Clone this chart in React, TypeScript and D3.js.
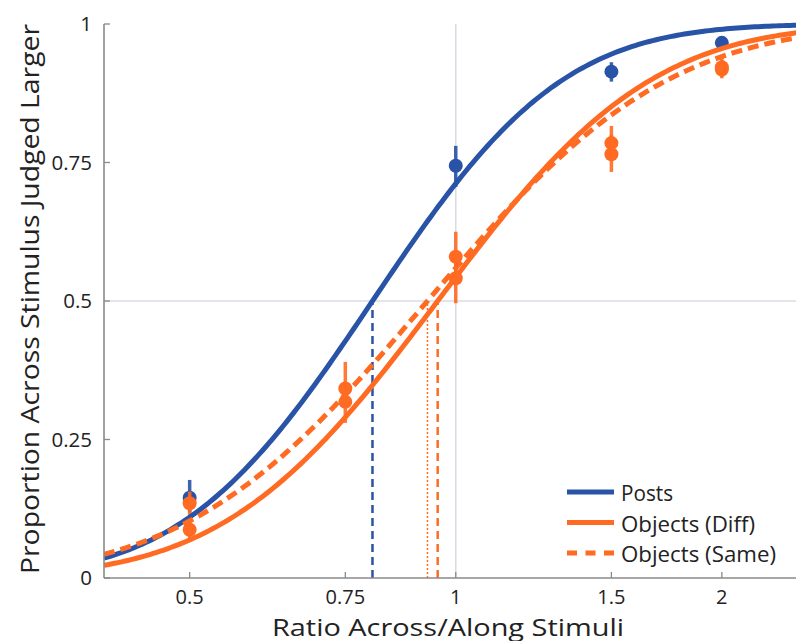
import React from "react";
import * as d3 from "d3";

const W = 796;
const H = 641;

// x ticks (log scale), y ticks
const xTicks = [0.5, 0.75, 1, 1.5, 2];
const xTickLabels = ["0.5", "0.75", "1", "1.5", "2"];
const yTicks = [0, 0.25, 0.5, 0.75, 1];
const yTickLabels = ["0", "0.25", "0.5", "0.75", "1"];

// series meta
const seriesNames = ["Posts", "Objects (Diff)", "Objects (Same)"];
const legendWidths = [52, 134, 155];
const seriesColors = ["#2853a6", "#ff6b22", "#ff6b22"];
const seriesDash = ["none", "none", "11 6"];
// fitted psychometric (cumulative normal in log ratio) parameters
const fitPSE = [0.805, 0.954, 0.929];
const fitSigma = [0.388, 0.435, 0.49];
const pseLineDash = ["8 5", "8 5", "2 2"];
const pseLineWidth = [2.5, 2.5, 1.5];

// observed data
const postsRatios = [0.5, 1, 1.5, 2];
const postsMean = [0.145, 0.744, 0.914, 0.966];
const postsLo = [0.118, 0.706, 0.896, 0.955];
const postsHi = [0.177, 0.78, 0.931, 0.975];
const objRatios = [0.5, 0.75, 1, 1.5, 2];
const diffMean = [0.087, 0.318, 0.541, 0.765, 0.918];
const diffLo = [0.069, 0.28, 0.496, 0.733, 0.902];
const diffHi = [0.11, 0.35, 0.58, 0.80, 0.935];
const sameMean = [0.135, 0.342, 0.58, 0.785, 0.922];
const sameLo = [0.11, 0.31, 0.54, 0.755, 0.905];
const sameHi = [0.156, 0.39, 0.625, 0.816, 0.941];

const ratiosBySeries = [postsRatios, objRatios, objRatios];
const means = [postsMean, diffMean, sameMean];
const los = [postsLo, diffLo, sameLo];
const his = [postsHi, diffHi, sameHi];

const x = d3.scaleLog().domain([0.4, 2.5]).range([104, 807.5]);
const y = d3.scaleLinear().domain([0, 1]).range([578, 24]);

function phi(z: number) {
  // cumulative normal via erf approximation
  const t = 1 / (1 + 0.3275911 * Math.abs(z) / Math.SQRT2);
  const a = [0.254829592, -0.284496736, 1.421413741, -1.453152027, 1.061405429];
  const poly = t * (a[0] + t * (a[1] + t * (a[2] + t * (a[3] + t * a[4]))));
  const erf = 1 - poly * Math.exp(-(z * z) / 2);
  return z >= 0 ? 0.5 * (1 + erf) : 0.5 * (1 - erf);
}

const curveXs = d3.range(0, 201).map((i) => 0.4 * Math.pow(2.5 / 0.4, i / 200));

export default function App() {
  const font = "'Open Sans', Lato, sans-serif";
  const line = d3
    .line<number>()
    .x((d) => x(d))
    .curve(d3.curveLinear);
  const axisColor = "#8a8a8a";
  const gridColor = "#d9dce2";

  return (
    <svg
      width={W}
      height={H}
      style={{ position: "absolute", left: 0, top: 0, background: "#fff" }}
      fontFamily={font}
    >
      <defs>
        <clipPath id="plot">
          <rect x={104} y={0} width={W - 104} height={578} />
        </clipPath>
      </defs>
      {/* reference lines */}
      <line x1={x(1)} x2={x(1)} y1={y(1)} y2={y(0)} stroke={gridColor} strokeWidth={1.6} />
      <line x1={104} x2={W} y1={y(0.5)} y2={y(0.5)} stroke={gridColor} strokeWidth={1.6} />

      {/* PSE lines */}
      {fitPSE.map((p, i) => (
        <line
          key={"pse" + i}
          x1={x(p)}
          x2={x(p)}
          y1={y(0)}
          y2={y(0.5)}
          stroke={seriesColors[i]}
          strokeWidth={pseLineWidth[i]}
          strokeDasharray={pseLineDash[i]}
        />
      ))}

      {/* data points with error bars */}
      {means.map((m, si) => (
        <g key={"pts" + si} clipPath="url(#plot)">
          {ratiosBySeries[si].map((r, j) => (
            <g key={j}>
              <line
                x1={x(r)}
                x2={x(r)}
                y1={y(los[si][j])}
                y2={y(his[si][j])}
                stroke={seriesColors[si]}
                strokeWidth={3.5}
                opacity={0.9}
              />
              <circle cx={x(r)} cy={y(m[j])} r={7} fill={seriesColors[si]} />
            </g>
          ))}
        </g>
      ))}

      {/* fitted curves */}
      <g clipPath="url(#plot)">
        {fitPSE.map((p, i) => {
          const yy = (d: number) => y(phi((Math.log(d) - Math.log(p)) / fitSigma[i]));
          const path = line.y(yy)(curveXs) || "";
          return (
            <path
              key={"c" + i}
              d={path}
              fill="none"
              stroke={seriesColors[i]}
              strokeWidth={5}
              strokeDasharray={seriesDash[i]}
            />
          );
        })}
      </g>

      {/* axes */}
      <line x1={104} x2={104} y1={y(1)} y2={y(0)} stroke={axisColor} strokeWidth={1.6} />
      <line x1={104} x2={W} y1={y(0)} y2={y(0)} stroke={axisColor} strokeWidth={1.6} />
      {yTicks.map((t, i) => (
        <g key={"yt" + i}>
          <line x1={104} x2={110} y1={y(t)} y2={y(t)} stroke={axisColor} strokeWidth={1.3} />
          <text x={92} y={y(t)} dy="0.36em" textAnchor="end" fontSize={20.5} fill="#222">
            {yTickLabels[i]}
          </text>
        </g>
      ))}
      {xTicks.map((t, i) => (
        <g key={"xt" + i}>
          <line x1={x(t)} x2={x(t)} y1={y(0)} y2={y(0) - 6} stroke={axisColor} strokeWidth={1.3} />
          <text x={x(t)} y={603.5} textAnchor="middle" fontSize={20} fill="#222">
            {xTickLabels[i]}
          </text>
        </g>
      ))}
      <text
        x={272}
        y={635.5}
        fontSize={24}
        fill="#222"
        textLength={352}
        lengthAdjust="spacingAndGlyphs"
      >
        Ratio Across/Along Stimuli
      </text>
      <text
        transform="translate(39,574) rotate(-90)"
        fontSize={25}
        fill="#222"
        textLength={550}
        lengthAdjust="spacingAndGlyphs"
      >
        Proportion Across Stimulus Judged Larger
      </text>

      {/* legend */}
      {seriesNames.map((n, i) => (
        <g key={"lg" + i} transform={`translate(0,${492 + i * 30.5})`}>
          <line
            x1={567}
            x2={614}
            y1={0}
            y2={0}
            stroke={seriesColors[i]}
            strokeWidth={5}
            strokeDasharray={seriesDash[i] === "none" ? "none" : "10 8.5"}
          />
          <text
            x={621}
            y={9}
            fontSize={21}
            fill="#222"
            textLength={legendWidths[i]}
            lengthAdjust="spacingAndGlyphs"
          >
            {n}
          </text>
        </g>
      ))}
    </svg>
  );
}
